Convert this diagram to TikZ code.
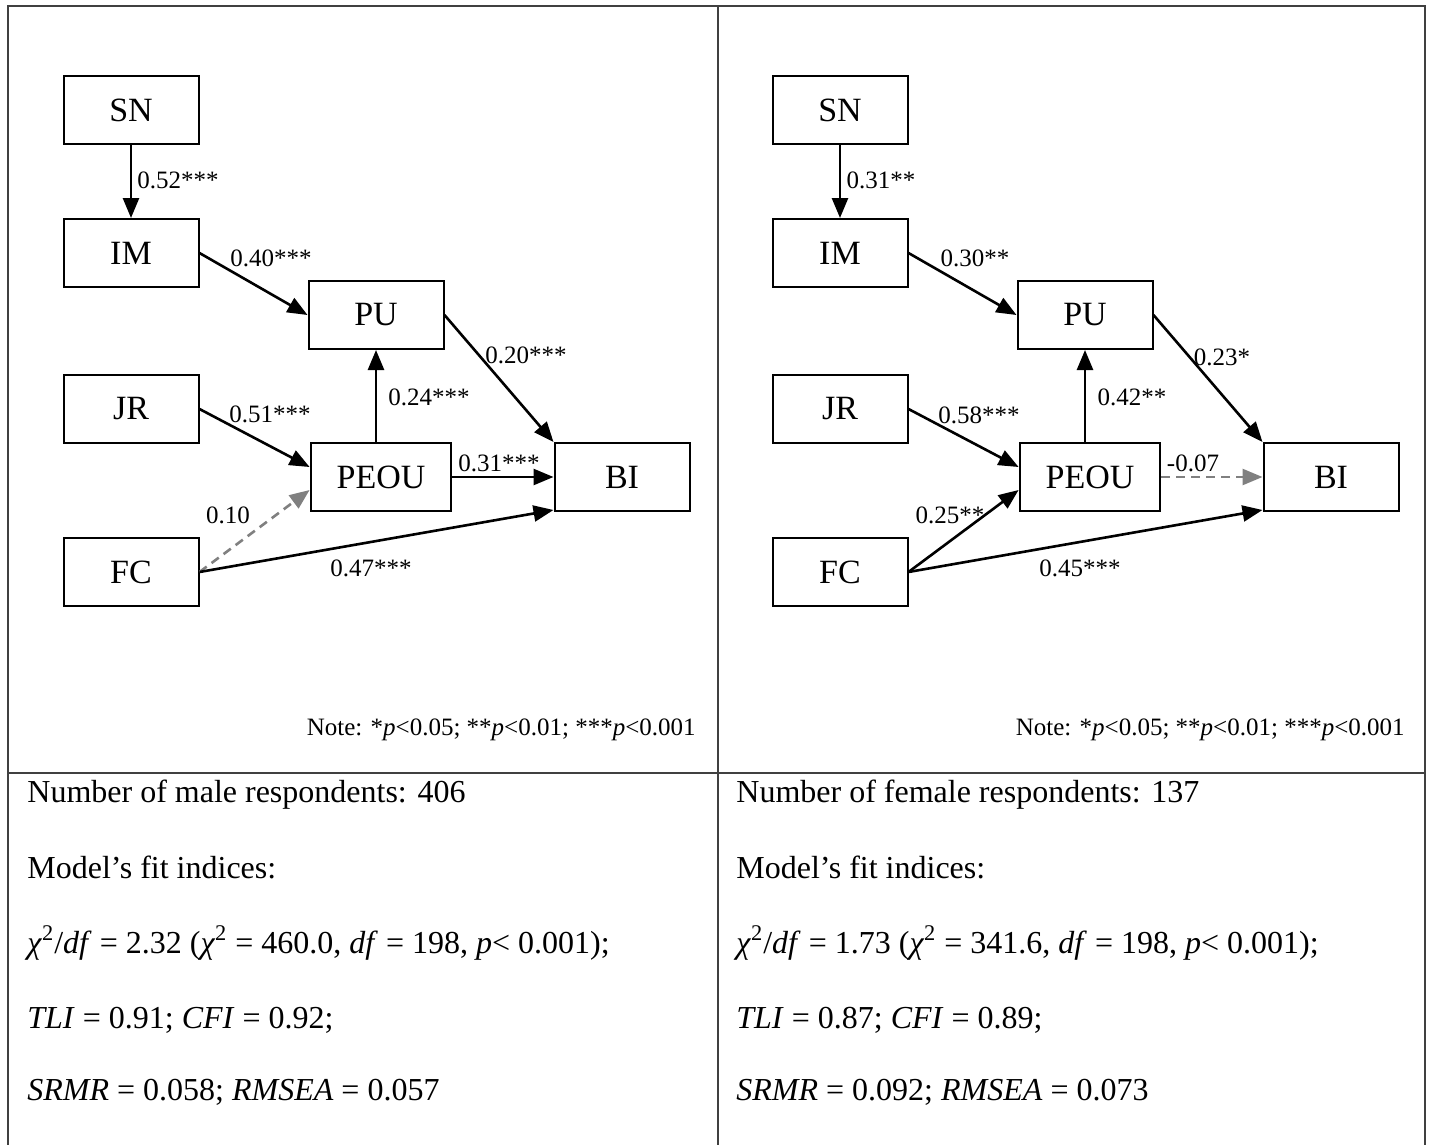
\documentclass[tikz,border=0pt]{standalone}
\usepackage{fontspec}
\setmainfont{Liberation Serif}
\usepackage{tikz}
\usetikzlibrary{arrows.meta}
\usetikzlibrary{calc}
\tikzset{
  var/.style={draw, line width=1pt, minimum width=67.5pt, minimum height=34pt, inner xsep=13pt, inner ysep=0pt, font=\fontsize{17}{17}\selectfont},
  eff/.style={-{Triangle[length=10pt,width=8pt]}, line width=1.3pt},
  ns/.style={eff, gray, dash pattern=on 4.5pt off 3pt},
  coef/.style={inner sep=1pt, font=\fontsize{12.5}{12.5}\selectfont},
  info/.style={anchor=west, inner sep=0pt, font=\fontsize{16}{16}\selectfont},
  rule/.style={line width=1pt, black!75}
}

\begin{document}
\begin{tikzpicture}[x=0.5pt,y=-0.5pt]
\useasboundingbox (0,0) rectangle (1430,1145);

% table
\draw [rule] (8,1145) -- (8,6) -- (1425,6) -- (1425,1145);
\draw [rule] (718,6) -- (718,1145);
\draw [rule, line width=1.4pt] (8,773) -- (1425,773);

%% male respondents
\foreach \n/\x/\y/\t in {sn/131/110/SN, im/131/253/IM, pu/376/315/PU, jr/131/409/JR, peou/381/477/PEOU, bi/622/477/BI, fc/131/572/FC}
  {\node [var] (m-\n) at (\x,\y) {\t};}

\draw [eff] (m-sn) -- (m-im);
\draw [eff] (m-im.east) -- (m-pu.west);
\draw [eff] (m-pu.east) -- (m-bi.north west);
\draw [eff] (m-peou.north -| m-pu.south) -- (m-pu.south);
\draw [eff] (m-jr.east) -- ([yshift=5pt]m-peou.west);
\draw [eff] (m-peou) -- (m-bi);
\draw [ns] (m-fc.east) -- ([yshift=-6.5pt]m-peou.west);
\draw [eff] (m-fc.east) -- ([yshift=1pt]m-bi.south west);

\foreach \n/\x/\y/\t in {snim/178/180/0.52***, impu/271/258/0.40***, pubi/526/355/0.20***, peoupu/429/397/0.24***, jrpeou/270/414/0.51***, peoubi/499/463/0.31***, fcpeou/228/515/0.10, fcbi/371/568/0.47***}
  {\node [coef] (m-\n) at (\x,\y) {\t};}

\node [coef, anchor=east] (m-note) at (698,730) {Note: *\textit{p}<0.05; **\textit{p}<0.01; ***\textit{p}<0.001};

\node [info] (m-size) at (27,795) {Number of male respondents: 406};
\node [info] (m-fit) at (27,867) {Model’s fit indices:};
\node [info] (m-chi) at (27,943) {\textit{χ}\textsuperscript{2}/\textit{df} = 2.32 (\textit{χ}\textsuperscript{2} = 460.0, \textit{df} = 198, \textit{p}< 0.001);};
\node [info] (m-tli) at (27,1020) {\textit{TLI} = 0.91; \textit{CFI} = 0.92;};
\node [info] (m-srmr) at (27,1092) {\textit{SRMR} = 0.058; \textit{RMSEA} = 0.057};

%% female respondents
\begin{scope}[xshift=354.5pt]
\foreach \n/\x/\y/\t in {sn/131/110/SN, im/131/253/IM, pu/376/315/PU, jr/131/409/JR, peou/381/477/PEOU, bi/622/477/BI, fc/131/572/FC}
  {\node [var] (f-\n) at (\x,\y) {\t};}

\draw [eff] (f-sn) -- (f-im);
\draw [eff] (f-im.east) -- (f-pu.west);
\draw [eff] (f-pu.east) -- (f-bi.north west);
\draw [eff] (f-peou.north -| f-pu.south) -- (f-pu.south);
\draw [eff] (f-jr.east) -- ([yshift=5pt]f-peou.west);
\draw [ns] (f-peou) -- (f-bi);
\draw [eff] (f-fc.east) -- ([yshift=-6.5pt]f-peou.west);
\draw [eff] (f-fc.east) -- ([yshift=1pt]f-bi.south west);

\foreach \n/\x/\y/\t in {snim/172/180/0.31**, impu/266/258/0.30**, pubi/513/357/0.23*, peoupu/423/397/0.42**, jrpeou/270/415/0.58***, peoubi/484/463/-0.07, fcpeou/241/515/0.25**, fcbi/371/568/0.45***}
  {\node [coef] (f-\n) at (\x,\y) {\t};}

\node [coef, anchor=east] (f-note) at (698,730) {Note: *\textit{p}<0.05; **\textit{p}<0.01; ***\textit{p}<0.001};

\node [info] (f-size) at (27,795) {Number of female respondents: 137};
\node [info] (f-fit) at (27,867) {Model’s fit indices:};
\node [info] (f-chi) at (27,943) {\textit{χ}\textsuperscript{2}/\textit{df} = 1.73 (\textit{χ}\textsuperscript{2} = 341.6, \textit{df} = 198, \textit{p}< 0.001);};
\node [info] (f-tli) at (27,1020) {\textit{TLI} = 0.87; \textit{CFI} = 0.89;};
\node [info] (f-srmr) at (27,1092) {\textit{SRMR} = 0.092; \textit{RMSEA} = 0.073};
\end{scope}

\end{tikzpicture}
\end{document}
